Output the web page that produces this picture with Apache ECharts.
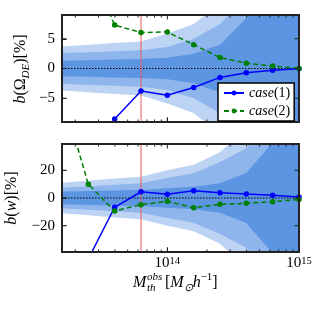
<!DOCTYPE html>
<html><head><meta charset="utf-8">
<script src="https://cdn.jsdelivr.net/npm/echarts@6/dist/echarts.min.js"></script>
<style>html,body{margin:0;padding:0;background:#fff}#c{width:315px;height:315px}</style>
</head><body><div id="c"></div>
<script>
// ---- data ----
const massBins = [1.585e13, 2.512e13, 3.981e13, 6.310e13, 1.000e14, 1.585e14, 2.512e14, 3.981e14, 6.310e14, 1.000e15];
const massMin = 1.585e13, massMax = 1.0e15;
const thresholdMass = 6.31e13;
const majorTickValues = [1e14];
const minorTickValues = [2e13,3e13,4e13,5e13,6e13,7e13,8e13,9e13,2e14,3e14,4e14,5e14,6e14,7e14,8e14,9e14];
const omegaTicks = [-5, 0, 5];
const wTicks = [-20, 0, 20];

const omegaCase1 = [-40, -25, -8.5, -3.8, -4.5, -3.2, -1.5, -0.7, -0.3, -0.05];
const omegaCase2 = [25, 17.5, 7.3, 6.05, 6.15, 4.0, 1.85, 0.9, 0.4, 0.02];
const wCase1 = [-80, -44, -6.7, 4.5, 2.7, 5.3, 3.8, 2.9, 1.9, 0.7];
const wCase2 = [75, 9.9, -9.4, -4.8, -2.4, -7.0, -4.6, -3.8, -2.7, -1.0];

// error bands (half widths)
const omegaBand1 = [1.3, 1.4, 1.5, 1.6, 1.8, 2.5, 4.0, 8.5, 18, 30];
const omegaBand2 = [2.6, 2.75, 2.9, 3.05, 3.6, 5.0, 7.5, 12, 22, 35];
const omegaBand3 = [3.7, 4.0, 4.3, 4.55, 5.9, 7.5, 11, 16, 28, 45];
const wBand1 = [4.6, 5.0, 5.4, 5.8, 7.0, 8.2, 10.6, 18, 40, 70];
const wBand2 = [7.4, 8.4, 9.5, 10.6, 14.5, 17.8, 26, 36, 55, 90];
const wBand3 = [11, 12.5, 14, 15.4, 20, 24, 33, 50, 80, 120];

const omegaRange = [-9, 9];
const wRange = [-39, 39];

// ---- layout / style ----
const FONT = 'Liberation Serif';
const colLight = '#bdd3f3', colMid = '#8eb5ec', colDark = '#5c95e2';
const frameColor = '#222';
const gridBoxes = [
  { left: 62, top: 15, width: 237, height: 107 },
  { left: 62, top: 144, width: 237, height: 108 }
];
const MINOR_LEN = 2.5, MAJOR_LEN = 4.5; // px

const zip = (xs, ys) => xs.map((x, i) => [x, ys[i]]);

function bandSeries(vals, sign, color, xi, yi) {
  return {
    type: 'line', xAxisIndex: xi, yAxisIndex: yi, silent: true,
    data: zip(massBins, vals.map(v => sign * v)),
    showSymbol: false, symbol: 'none',
    lineStyle: { width: 0 }, areaStyle: { color: color, opacity: 1 }, z: 1
  };
}
function zeroLine(xi, yi) {
  return {
    type: 'line', xAxisIndex: xi, yAxisIndex: yi, silent: true, z: 2,
    data: [[massMin, 0], [massMax, 0]], showSymbol: false, symbol: 'none',
    lineStyle: { type: [1.5, 1.5], color: '#000', width: 1 }
  };
}
function thresholdLine(xi, yi, range) {
  return {
    type: 'line', xAxisIndex: xi, yAxisIndex: yi, silent: true, z: 2,
    data: [[thresholdMass, range[0]], [thresholdMass, range[1]]], showSymbol: false, symbol: 'none',
    lineStyle: { type: 'solid', color: '#ee5a5a', width: 1 }
  };
}
// frame of the panel, drawn through the axes' scales
function frameSeries(gi, range) {
  return {
    type: 'line', xAxisIndex: gi, yAxisIndex: gi, silent: true, z: 9, clip: false,
    data: [[massMin, range[1]], [massMax, range[1]], [massMax, range[0]], [massMin, range[0]], [massMin, range[1]]],
    showSymbol: false, symbol: 'none',
    lineStyle: { color: frameColor, width: 2, cap: 'square', join: 'miter' }
  };
}
// inward ticks on all sides as short segments (lengths converted from px to data units)
function tickSeries(gi, range, yTicks) {
  const box = gridBoxes[gi];
  const dyPerPx = (range[1] - range[0]) / box.height;
  const dexPerPx = (Math.log10(massMax) - Math.log10(massMin)) / box.width;
  const segs = [];
  const xTick = (v, len) => {
    segs.push([[v, range[0]], [v, range[0] + len * dyPerPx]]);
    segs.push([[v, range[1]], [v, range[1] - len * dyPerPx]]);
  };
  minorTickValues.forEach(v => xTick(v, MINOR_LEN));
  majorTickValues.forEach(v => xTick(v, MAJOR_LEN));
  yTicks.forEach(v => {
    segs.push([[massMin, v], [massMin * Math.pow(10, MAJOR_LEN * dexPerPx), v]]);
    segs.push([[massMax, v], [massMax / Math.pow(10, MAJOR_LEN * dexPerPx), v]]);
  });
  const data = [];
  segs.forEach(s => { data.push(s[0], s[1], ['-', '-']); });
  return {
    type: 'line', xAxisIndex: gi, yAxisIndex: gi, silent: true, z: 9, clip: false,
    data: data, connectNulls: false, showSymbol: false, symbol: 'none',
    lineStyle: { color: frameColor, width: 1 }
  };
}
function dataSeries(name, vals, color, dashed, xi, yi) {
  return {
    name: name, type: 'line', xAxisIndex: xi, yAxisIndex: yi,
    data: zip(massBins, vals), symbol: 'circle', symbolSize: 5.5, showAllSymbol: true,
    lineStyle: { color: color, width: 1.5, type: dashed ? [5, 3] : 'solid' },
    itemStyle: { color: color }, z: 5
  };
}

function xAxisDef(gi, labels) {
  return {
    type: 'log', logBase: 10, gridIndex: gi, position: 'bottom', min: massMin, max: massMax, z: 8,
    axisLine: { show: true, onZero: false, lineStyle: { color: frameColor, width: 2 } },
    axisTick: { show: true, inside: true, length: MAJOR_LEN, lineStyle: { color: frameColor, width: 1 } },
    splitLine: { show: false },
    axisLabel: {
      show: labels, margin: 4, showMinLabel: false, color: '#000',
      formatter: function (v) {
        const l = Math.log10(v), e = Math.round(l);
        if (Math.abs(l - e) > 0.01) return '';
        return '{b|10}{e|' + e + '}';
      },
      rich: {
        b: { fontFamily: FONT, fontSize: 15, lineHeight: 15, verticalAlign: 'bottom', color: '#000' },
        e: { fontFamily: FONT, fontSize: 10.5, lineHeight: 15, verticalAlign: 'top', color: '#000' }
      }
    }
  };
}
function yAxisDef(gi, range, split) {
  return {
    type: 'value', gridIndex: gi, position: 'left', min: range[0], max: range[1], splitNumber: split, z: 8,
    axisLine: { show: true, onZero: false, lineStyle: { color: frameColor, width: 2 } },
    axisTick: { show: true, inside: true, length: MAJOR_LEN, lineStyle: { color: frameColor, width: 1 } },
    splitLine: { show: false },
    axisLabel: {
      show: true, margin: 7, showMinLabel: false, showMaxLabel: false,
      fontFamily: FONT, fontSize: 15, color: '#000',
      formatter: v => String(v).replace('-', '\u2212')
    }
  };
}

const chart = echarts.init(document.getElementById('c'), null, { renderer: 'canvas' });
const mathRich = {
  i: { fontFamily: FONT, fontStyle: 'italic', fontSize: 16, lineHeight: 22, fill: '#000' },
  n: { fontFamily: FONT, fontSize: 16, lineHeight: 22, fill: '#000' },
  s: { fontFamily: FONT, fontStyle: 'italic', fontSize: 11, lineHeight: 22, verticalAlign: 'bottom', fill: '#000' },
  p: { fontFamily: FONT, fontSize: 11, lineHeight: 22, verticalAlign: 'top', fill: '#000' }
};

chart.setOption({
  animation: false,
  backgroundColor: '#fff',
  grid: gridBoxes.map(b => Object.assign({}, b)),
  xAxis: [xAxisDef(0, false), xAxisDef(1, true)],
  yAxis: [yAxisDef(0, omegaRange, 3), yAxisDef(1, wRange, 4)],
  legend: {
    data: ['case(1)', 'case(2)'], orient: 'vertical', left: 218, top: 83, z: 12,
    backgroundColor: '#fff', borderColor: '#000', borderWidth: 1.5, borderRadius: 0,
    padding: [3, 4, 3, 5], itemGap: 4, itemWidth: 20, itemHeight: 6,
    textStyle: { fontFamily: FONT, fontSize: 14, lineHeight: 12, color: '#000',
      rich: { i: { fontFamily: FONT, fontStyle: 'italic', fontSize: 14, lineHeight: 12 }, n: { fontFamily: FONT, fontSize: 14, lineHeight: 12 } } },
    formatter: name => '{i|case}{n|' + name.slice(4) + '}'
  },
  graphic: [
    { type: 'text', x: 21, y: 69, rotation: Math.PI / 2, silent: true,
      style: { text: '{i|b}{n|(Ω}{s|DE}{n|)[%]}', align: 'center', verticalAlign: 'middle', rich: mathRich } },
    { type: 'text', x: 12, y: 198, rotation: Math.PI / 2, silent: true,
      style: { text: '{i|b}{n|(}{i|w}{n|)[%]}', align: 'center', verticalAlign: 'middle', rich: mathRich } },
    { type: 'text', x: 133, y: 283, silent: true,
      style: { text: 'M', font: 'italic 16px "Liberation Serif"', fill: '#000', align: 'left', verticalAlign: 'middle' } },
    { type: 'text', x: 147, y: 277, silent: true,
      style: { text: 'obs', font: 'italic 11px "Liberation Serif"', fill: '#000', align: 'left', verticalAlign: 'middle' } },
    { type: 'text', x: 147, y: 288, silent: true,
      style: { text: 'th', font: 'italic 11px "Liberation Serif"', fill: '#000', align: 'left', verticalAlign: 'middle' } },
    { type: 'text', x: 165, y: 283, silent: true,
      style: { text: '{n|[}{i|M}{s|⊙}{i|h}{p|−1}{n|]}', align: 'left', verticalAlign: 'middle', rich: mathRich } }
  ],
  series: [
    bandSeries(omegaBand3, 1, colLight, 0, 0), bandSeries(omegaBand3, -1, colLight, 0, 0),
    bandSeries(omegaBand2, 1, colMid, 0, 0), bandSeries(omegaBand2, -1, colMid, 0, 0),
    bandSeries(omegaBand1, 1, colDark, 0, 0), bandSeries(omegaBand1, -1, colDark, 0, 0),
    bandSeries(wBand3, 1, colLight, 1, 1), bandSeries(wBand3, -1, colLight, 1, 1),
    bandSeries(wBand2, 1, colMid, 1, 1), bandSeries(wBand2, -1, colMid, 1, 1),
    bandSeries(wBand1, 1, colDark, 1, 1), bandSeries(wBand1, -1, colDark, 1, 1),
    zeroLine(0, 0), zeroLine(1, 1),
    thresholdLine(0, 0, omegaRange), thresholdLine(1, 1, wRange),
    dataSeries('case(1)', omegaCase1, '#0000ff', false, 0, 0),
    dataSeries('case(2)', omegaCase2, '#008000', true, 0, 0),
    dataSeries('case(1)', wCase1, '#0000ff', false, 1, 1),
    dataSeries('case(2)', wCase2, '#008000', true, 1, 1),
    frameSeries(0, omegaRange), frameSeries(1, wRange),
    tickSeries(0, omegaRange, omegaTicks), tickSeries(1, wRange, wTicks)
  ]
});
</script></body></html>
